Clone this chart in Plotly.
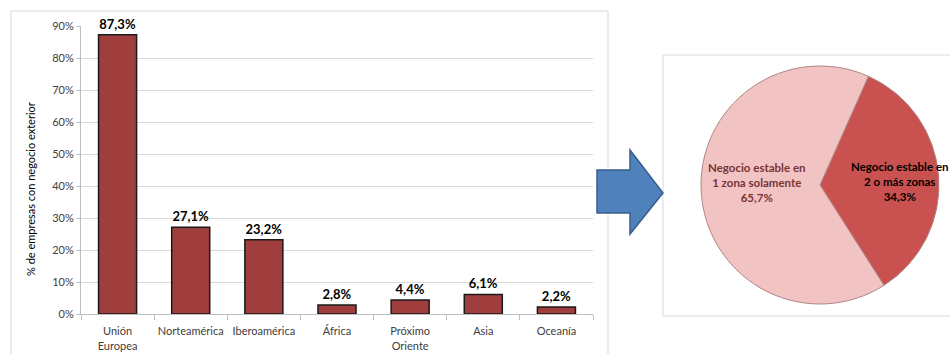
import plotly.graph_objects as go

# ---- data ----
regions = ["Unión<br>Europea", "Norteamérica", "Iberoamérica", "África",
           "Próximo<br>Oriente", "Asia", "Oceanía"]
shares = [0.873, 0.271, 0.232, 0.028, 0.044, 0.061, 0.022]
bar_labels = [f"{v*100:.1f}".replace(".", ",") + "%" for v in shares]

pie_labels = ["Negocio estable en<br>2 o más zonas", "Negocio estable en<br>1 zona solamente"]
pie_values = [34.3, 65.7]
y_title = "% de empresas con negocio exterior"

W, H = 950, 354
FONT = "Lato"

def px(x):
    return x / W

def py(y):
    return 1 - y / H

fig = go.Figure()

fig.add_trace(go.Bar(
    x=regions, y=shares,
    marker=dict(color="#A03D3D", line=dict(color="#1A1A1A", width=1.5)),
    text=bar_labels, textposition="outside", cliponaxis=False,
    textfont=dict(family=FONT, size=13, color="#000000", weight="bold"),
    xaxis="x", yaxis="y", showlegend=False, hoverinfo="skip",
))

fig.add_trace(go.Pie(
    labels=pie_labels, values=pie_values, sort=False, direction="clockwise",
    rotation=24, textinfo="none",
    marker=dict(colors=["#C9514F", "#F2C3C3"], line=dict(color="#B08585", width=1)),
    domain=dict(x=[px(701), px(939)], y=[py(304), py(66)]),
    showlegend=False, hoverinfo="skip",
))

pie_texts = [f"{l}<br>{str(v).replace('.', ',')}%" for l, v in zip(pie_labels, pie_values)]

annotations = [
    dict(text=y_title, textangle=-90, x=px(30), y=py(189), xref="paper", yref="paper",
         xanchor="center", yanchor="middle",
         showarrow=False, font=dict(family=FONT, size=11, color="#000000")),
    dict(text=f"<b>{pie_texts[1]}</b>", x=px(757), y=py(183), xref="paper", yref="paper",
         xanchor="center", yanchor="middle",
         showarrow=False, font=dict(family=FONT, size=11.5, color="#7A3434")),
    dict(text=f"<b>{pie_texts[0]}</b>", x=px(900), y=py(181), xref="paper", yref="paper",
         xanchor="center", yanchor="middle",
         showarrow=False, font=dict(family=FONT, size=11.5, color="#000000")),
]

arrow = [(597, 170), (630, 170), (630, 150), (663, 193), (630, 234), (630, 213), (597, 213)]
arrow_path = "M " + " L ".join(f"{px(x):.5f},{py(y):.5f}" for x, y in arrow) + " Z"

shapes = [
    dict(type="rect", xref="paper", yref="paper", x0=px(11), x1=px(608), y0=py(365), y1=py(11),
         line=dict(color="#D9D9D9", width=1), fillcolor="rgba(0,0,0,0)", layer="below"),
    dict(type="rect", xref="paper", yref="paper", x0=px(663), x1=px(960), y0=py(316), y1=py(55),
         line=dict(color="#D9D9D9", width=1), fillcolor="rgba(0,0,0,0)", layer="below"),
    dict(type="path", xref="paper", yref="paper", path=arrow_path,
         fillcolor="#4F81BD", line=dict(color="#385D8A", width=1.5)),
]

fig.update_layout(
    width=W, height=H, margin=dict(l=0, r=0, t=0, b=0, autoexpand=False),
    paper_bgcolor="white", plot_bgcolor="white",
    separators=",.",
    bargap=0.48,
    font=dict(family=FONT, size=11, color="#404040"),
    xaxis=dict(domain=[px(81), px(593)], showgrid=False, showline=True, linecolor="#BFBFBF",
               ticks="outside", tickson="boundaries", ticklen=5, tickcolor="#BFBFBF",
               tickangle=0, automargin=False, ticklabelstandoff=7,
               tickfont=dict(family=FONT, size=11, color="#404040"), fixedrange=True),
    yaxis=dict(domain=[py(314), py(26)], range=[0, 0.9], dtick=0.1, tickformat=".0%",
               showgrid=True, gridcolor="#D9D9D9", gridwidth=1, showline=True,
               linecolor="#BFBFBF", ticks="outside", ticklen=4, tickcolor="#BFBFBF",
               automargin=False,
               tickfont=dict(family=FONT, size=11, color="#404040"), zeroline=False,
               fixedrange=True),
    annotations=annotations,
    shapes=shapes,
)

fig.write_html("out.html", config={"displayModeBar": False},
               post_script="document.body.style.margin='0';document.body.style.overflow='hidden';")
